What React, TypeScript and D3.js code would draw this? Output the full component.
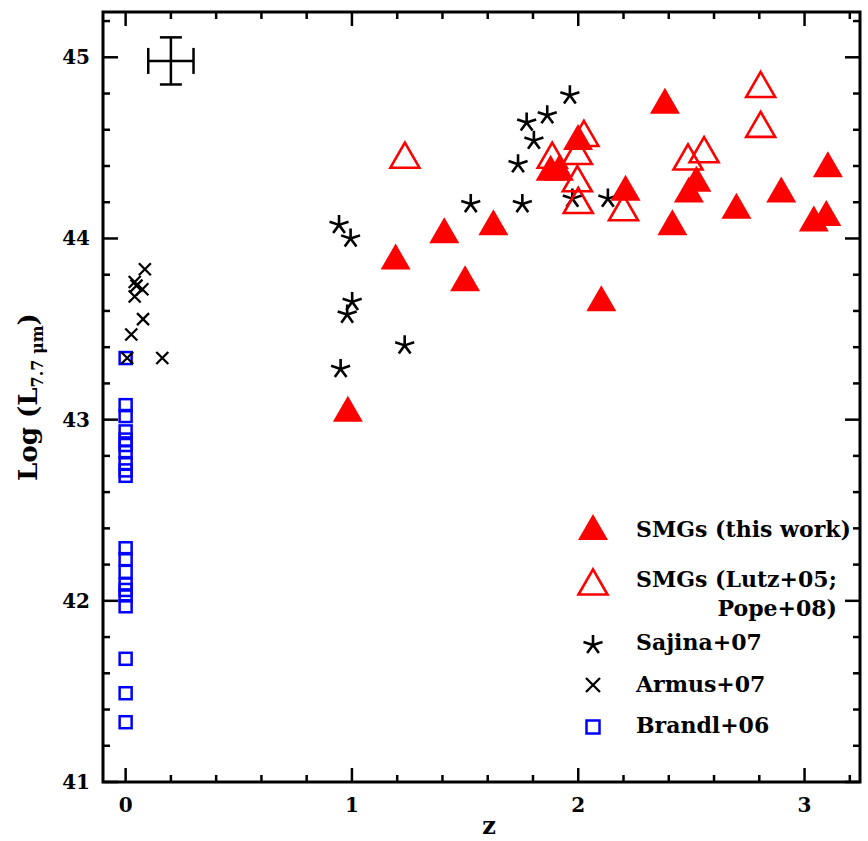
import * as d3 from "d3";

const W = 868;
const H = 841;

// SMGs (this work): [z, log L7.7]
const smgThisWork: [number, number][] = [
  [0.982, 43.06], [1.193, 43.9], [1.408, 44.045], [1.5, 43.78], [1.625, 44.09],
  [1.878, 44.39], [1.915, 44.39], [1.999, 44.56], [2.102, 43.67], [2.209, 44.28],
  [2.383, 44.76], [2.416, 44.09], [2.489, 44.27], [2.522, 44.33], [2.699, 44.18],
  [2.897, 44.27], [3.041, 44.11], [3.096, 44.14], [3.103, 44.41],
];

// SMGs (Lutz+05; Pope+08)
const smgLutzPope: [number, number][] = [
  [1.234, 44.46], [1.885, 44.46], [1.996, 44.48], [2.025, 44.58], [1.996, 44.33],
  [2.0, 44.21], [2.2, 44.17], [2.485, 44.45], [2.556, 44.49], [2.806, 44.63],
  [2.806, 44.85],
];

// Sajina+07
const sajina: [number, number][] = [
  [0.943, 44.075], [0.994, 44.0], [1.001, 43.65], [0.979, 43.58], [1.233, 43.41],
  [0.95, 43.28], [1.525, 44.19], [1.734, 44.41], [1.753, 44.19], [1.772, 44.64],
  [1.804, 44.54], [1.863, 44.68], [1.963, 44.79], [1.974, 44.22], [2.131, 44.22],
];

// Armus+07
const armus: [number, number][] = [
  [0.085, 43.83], [0.04, 43.76], [0.048, 43.74], [0.074, 43.72], [0.04, 43.68],
  [0.077, 43.555], [0.025, 43.47], [0.007, 43.34], [0.162, 43.34],
];

// Brandl+06 (all at z = 0)
const brandlZ = 0;
const brandl: number[] = [
  43.34, 43.08, 43.02, 42.935, 42.89, 42.86, 42.82, 42.76, 42.72, 42.69,
  42.29, 42.23, 42.16, 42.09, 42.06, 42.03, 41.97, 41.68, 41.49, 41.33,
];

// typical error bar
const errZ = 0.2;
const errL = 44.98;
const errDZ = 0.1;
const errDL = 0.13;

const xMajor = [0, 1, 2, 3];
const yMajor = [41, 42, 43, 44, 45];

const FONT = "'DejaVu Serif', serif";
const RED = "#ff0000";
const BLUE = "#0000ff";

const triPath = (s: number) => {
  const h = (s * Math.sqrt(3)) / 2;
  return `M0,${-h / 2}L${s / 2},${h / 2}L${-s / 2},${h / 2}Z`;
};

const starPath = (r: number) =>
  d3
    .range(5)
    .map((k) => {
      const a = -Math.PI / 2 + (k * 2 * Math.PI) / 5;
      return `M0,0L${r * Math.cos(a)},${r * Math.sin(a)}`;
    })
    .join("");

const crossPath = (r: number) => `M${-r},${-r}L${r},${r}M${-r},${r}L${r},${-r}`;

export default function App() {
  const x = d3.scaleLinear().domain([-0.1, 3.245]).range([103, 860]);
  const y = d3.scaleLinear().domain([41, 45.25]).range([782, 12]);
  const [x0, x1] = x.range();
  const [y0, y1] = y.range();

  const xMinor = d3.range(0, 3.25, 0.2).filter((v) => !xMajor.some((m) => Math.abs(m - v) < 1e-6));
  const yMinor = d3.range(41.2, 45.25, 0.2).filter((v) => !yMajor.some((m) => Math.abs(m - v) < 1e-6));

  const tickW = 2.5;
  const legX = 593;
  const legT = 636;

  return (
    <svg width={W} height={H} style={{ position: "absolute", left: 0, top: 0, background: "#fff" }}>
      {/* frame */}
      <rect x={x0} y={y1} width={x1 - x0} height={y0 - y1} fill="none" stroke="#000" strokeWidth={3} />

      {/* x ticks bottom & top */}
      {xMajor.map((v) => (
        <g key={"xM" + v} stroke="#000" strokeWidth={tickW}>
          <line x1={x(v)} x2={x(v)} y1={y0} y2={y0 - 14} />
          <line x1={x(v)} x2={x(v)} y1={y1} y2={y1 + 14} />
        </g>
      ))}
      {xMinor.map((v) => (
        <g key={"xm" + v} stroke="#000" strokeWidth={tickW}>
          <line x1={x(v)} x2={x(v)} y1={y0} y2={y0 - 7} />
          <line x1={x(v)} x2={x(v)} y1={y1} y2={y1 + 7} />
        </g>
      ))}
      {/* y ticks left & right */}
      {yMajor.map((v) => (
        <g key={"yM" + v} stroke="#000" strokeWidth={tickW}>
          <line x1={x0} x2={x0 + 15} y1={y(v)} y2={y(v)} />
          <line x1={x1} x2={x1 - 15} y1={y(v)} y2={y(v)} />
        </g>
      ))}
      {yMinor.map((v) => (
        <g key={"ym" + v} stroke="#000" strokeWidth={tickW}>
          <line x1={x0} x2={x0 + 7} y1={y(v)} y2={y(v)} />
          <line x1={x1} x2={x1 - 7} y1={y(v)} y2={y(v)} />
        </g>
      ))}

      {/* tick labels */}
      {xMajor.map((v) => (
        <text key={"xl" + v} x={x(v)} y={812} textAnchor="middle" fontFamily={FONT} fontWeight="bold" fontSize={20}>
          {v}
        </text>
      ))}
      {yMajor.map((v) => (
        <text key={"yl" + v} x={90} y={y(v) + 7} textAnchor="end" fontFamily={FONT} fontWeight="bold" fontSize={20}>
          {v}
        </text>
      ))}

      {/* axis titles */}
      <text x={489} y={834} textAnchor="middle" fontFamily={FONT} fontWeight="bold" fontSize={24}>
        z
      </text>
      <text
        transform="translate(37,397) rotate(-90)"
        textAnchor="middle"
        fontFamily={FONT}
        fontWeight="bold"
        fontSize={26}
      >
        Log (L
        <tspan fontSize={16} dy={6}>
          7.7 μm
        </tspan>
        <tspan dy={-6}>)</tspan>
      </text>

      {/* error bar */}
      <g stroke="#000" strokeWidth={2.5} fill="none">
        <line x1={x(errZ - errDZ)} x2={x(errZ + errDZ)} y1={y(errL)} y2={y(errL)} />
        <line x1={x(errZ)} x2={x(errZ)} y1={y(errL - errDL)} y2={y(errL + errDL)} />
        <line x1={x(errZ - errDZ)} x2={x(errZ - errDZ)} y1={y(errL) - 13} y2={y(errL) + 13} />
        <line x1={x(errZ + errDZ)} x2={x(errZ + errDZ)} y1={y(errL) - 13} y2={y(errL) + 13} />
        <line x1={x(errZ) - 11} x2={x(errZ) + 11} y1={y(errL - errDL)} y2={y(errL - errDL)} />
        <line x1={x(errZ) - 11} x2={x(errZ) + 11} y1={y(errL + errDL)} y2={y(errL + errDL)} />
      </g>

      {/* Brandl squares */}
      {brandl.map((v, i) => (
        <rect key={"b" + i} x={x(brandlZ) - 6} y={y(v) - 6} width={12} height={12} fill="none" stroke={BLUE} strokeWidth={2.5} />
      ))}
      {/* Armus crosses */}
      {armus.map(([z, l], i) => (
        <path key={"a" + i} d={crossPath(6)} transform={`translate(${x(z)},${y(l)})`} stroke="#000" strokeWidth={2.3} fill="none" />
      ))}
      {/* Sajina stars */}
      {sajina.map(([z, l], i) => (
        <path key={"s" + i} d={starPath(10)} transform={`translate(${x(z)},${y(l)})`} stroke="#000" strokeWidth={2.6} fill="none" />
      ))}
      {/* Lutz/Pope open triangles */}
      {smgLutzPope.map(([z, l], i) => (
        <path key={"o" + i} d={triPath(29)} transform={`translate(${x(z)},${y(l)})`} stroke={RED} strokeWidth={2.6} fill="none" strokeLinejoin="miter" />
      ))}
      {/* this work filled triangles */}
      {smgThisWork.map(([z, l], i) => (
        <path key={"f" + i} d={triPath(30)} transform={`translate(${x(z)},${y(l)})`} fill={RED} />
      ))}

      {/* legend */}
      <g fontFamily={FONT} fontWeight="bold" fontSize={22}>
        <path d={triPath(30)} transform={`translate(${legX},527)`} fill={RED} />
        <text x={legT} y={537}>SMGs (this work)</text>
        <path d={triPath(29)} transform={`translate(${legX},582)`} fill="none" stroke={RED} strokeWidth={2.6} />
        <text x={legT} y={587}>SMGs (Lutz+05;</text>
        <text x={837} y={616} textAnchor="end">Pope+08)</text>
        <path d={starPath(10)} transform={`translate(${legX},645)`} stroke="#000" strokeWidth={2.6} fill="none" />
        <text x={legT} y={650}>Sajina+07</text>
        <path d={crossPath(7)} transform={`translate(${legX},685)`} stroke="#000" strokeWidth={2.3} fill="none" />
        <text x={legT} y={692}>Armus+07</text>
        <rect x={legX - 6.5} y={727 - 6.5} width={13} height={13} fill="none" stroke={BLUE} strokeWidth={2.5} />
        <text x={legT} y={733}>Brandl+06</text>
      </g>
    </svg>
  );
}
